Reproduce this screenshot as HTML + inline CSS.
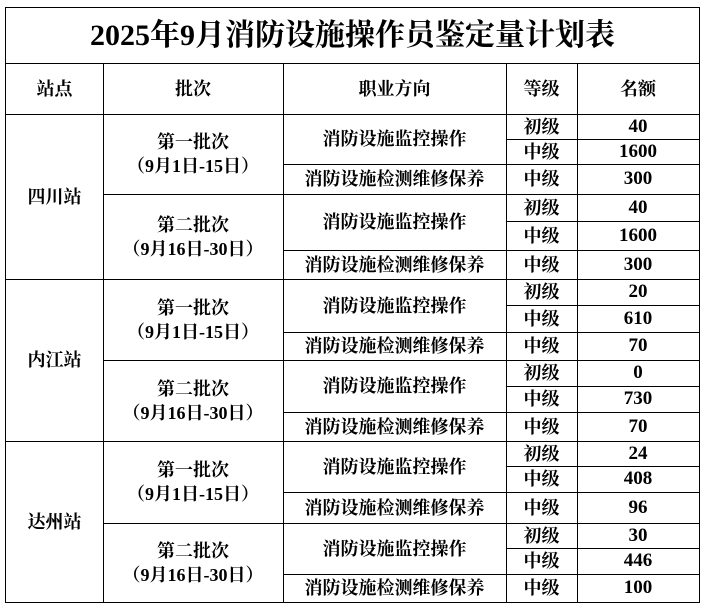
<!DOCTYPE html>
<html><head><meta charset="utf-8">
<style>
html,body{margin:0;padding:0;background:#fff;}
#t{position:relative;width:705px;height:608px;font-family:"Liberation Serif","Noto Serif CJK SC",serif;font-weight:bold;color:#000;}
.c{position:absolute;box-sizing:border-box;border-right:1px solid #000;border-bottom:1px solid #000;display:flex;align-items:center;justify-content:center;text-align:center;font-size:18px;line-height:24px;white-space:nowrap;}
</style></head>
<body>
<div id="t"></div>
<script>
const stations=["四川站","内江站","达州站"];
const batches=["第一批次<br>（9月1日-15日）","第二批次<br>（9月16日-30日）"];
const occupations=["消防设施监控操作","消防设施检测维修保养"];
const levels=["初级","中级","中级"];
const quotas=[[40,1600,300],[40,1600,300],[20,610,70],[0,730,70],[24,408,96],[30,446,100]];
const X=[5,103,283,506,577,699];
const Y=[114,139,164,194,221,250,279,305,332,360,386,412,441,466,492,523,548,574,602];
const t=document.getElementById('t');
function cell(x0,x1,y0,y1,html,name,fs){
  const d=document.createElement('div');
  d.className='c';
  d.style.left=x0+'px';d.style.top=y0+'px';
  d.style.width=(x1-x0+1)+'px';d.style.height=(y1-y0+1)+'px';
  if(fs)d.style.fontSize=fs+'px';
  d.innerHTML=html;
  
  
  t.appendChild(d);return d;
}
const title=cell(X[0],X[5],7,63,'2025年9月消防设施操作员鉴定量计划表','table-title',30);
title.style.borderLeft='1px solid #000';title.style.borderTop='1px solid #000';
const heads=["站点","批次","职业方向","等级","名额"];
heads.forEach((h,i)=>{const d=cell(X[i],X[i+1],63,114,h,'header-'+i,18);if(i==0)d.style.borderLeft='1px solid #000';});
stations.forEach((s,si)=>{
  const d=cell(X[0],X[1],Y[si*6],Y[si*6+6],s,'station-'+si);
  d.style.borderLeft='1px solid #000';
  for(let b=0;b<2;b++){
    const bi=si*2+b, r=bi*3;
    cell(X[1],X[2],Y[r],Y[r+3],batches[b],'batch-'+bi);
    cell(X[2],X[3],Y[r],Y[r+2],occupations[0],'occupation-monitor-'+bi);
    cell(X[2],X[3],Y[r+2],Y[r+3],occupations[1],'occupation-maintain-'+bi);
    for(let k=0;k<3;k++){
      cell(X[3],X[4],Y[r+k],Y[r+k+1],levels[k],'level-'+bi+'-'+k);
      cell(X[4],X[5],Y[r+k],Y[r+k+1],String(quotas[bi][k]),'quota-'+bi+'-'+k,19);
    }
  }
});
</script>
</body></html>
